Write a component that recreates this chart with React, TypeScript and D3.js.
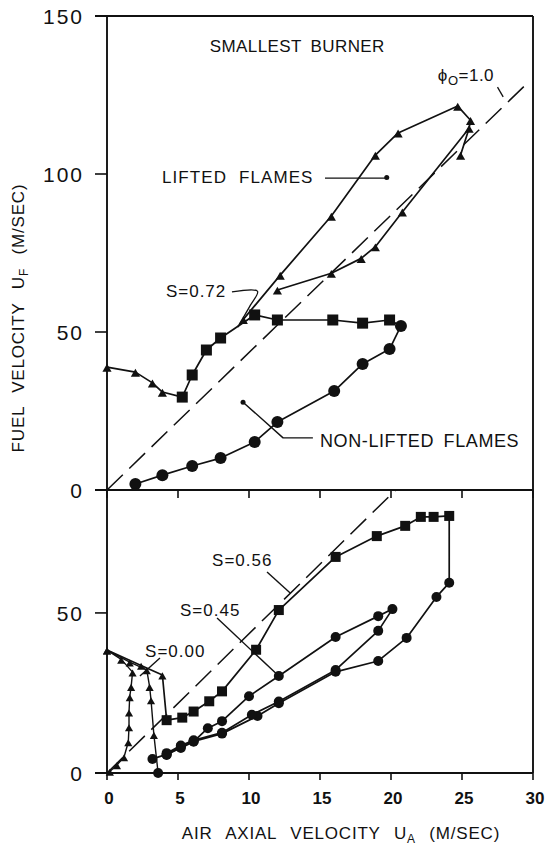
import React from "react";
import * as d3 from "d3";

type P = [number, number];

const X_TICKS = [0, 5, 10, 15, 20, 25, 30];
const TOP_Y_TICKS = [0, 50, 100, 150];
const BOTTOM_Y_TICKS = [0, 50];

// Stoichiometric line, phi_o = 1.0
const PHI_LINE: P[] = [[0, 0], [29.8, 129.6]];

// Upper panel: S = 0.72
const S072_TRIANGLES: P[] = [[0, 38.9], [2.0, 37.3], [3.2, 33.9], [3.9, 31.0]];
const S072_SQUARES: P[] = [
  [5.3, 29.4], [6.0, 36.4], [7.0, 44.3], [8.0, 48.1], [10.4, 55.4],
  [12.0, 53.8], [15.9, 53.8], [18.0, 52.8], [19.9, 53.8],
];
const S072_CIRCLES: P[] = [
  [20.7, 51.9], [19.9, 44.6], [18.0, 39.9], [16.0, 31.3], [12.0, 21.5],
  [10.4, 15.2], [8.0, 10.1], [6.0, 7.6], [3.9, 4.7], [2.0, 1.9],
];
const LIFTED_START: P = [9.2, 51.6];
const LIFTED_RISE: P[] = [
  [9.6, 54.0], [12.2, 68.0], [15.8, 86.7], [18.9, 106.0], [20.5, 113.0],
  [24.7, 121.5], [25.6, 117.0], [25.5, 114.5], [24.9, 106.0],
];
const LIFTED_FALL: P[] = [
  [25.5, 114.5], [20.8, 88.0], [18.9, 77.0], [17.9, 73.3], [15.8, 68.6], [12.0, 63.3],
];

// Lower panel: S = 0.00
const S000_LEFT: P[] = [
  [0, 38.4], [1.0, 35.5], [1.8, 31.5], [1.7, 27.0], [1.6, 23.8], [1.55, 19.0],
  [1.55, 14.4], [1.5, 9.7], [1.2, 5.0], [0.7, 2.5], [0.2, 0.5],
];
const S000_RIGHT: P[] = [[0, 38.4], [1.6, 34.6], [2.8, 32.2], [3.0, 27.0], [3.1, 22.8], [3.3, 12.0]];
const S000_RIGHT_END: P[] = [[3.6, 0]];

// Lower panel: S = 0.56
const S056_TRIANGLES: P[] = [[0, 38.4], [2.4, 33.6], [3.9, 30.6]];
const S056_SQUARES: P[] = [
  [4.2, 16.5], [5.3, 17.3], [6.1, 19.2], [7.2, 22.4], [8.1, 25.5], [10.5, 38.5],
  [12.1, 50.9], [16.1, 67.5], [19.0, 74.0], [21.0, 77.2], [22.1, 80.0], [23.0, 80.0], [24.1, 80.3],
];
const S056_CIRCLES: P[] = [
  [24.1, 59.4], [23.2, 55.0], [21.1, 42.2], [19.1, 35.0], [16.1, 31.6], [12.1, 21.8],
  [10.6, 17.8], [8.1, 12.3], [6.1, 9.9], [5.2, 8.2], [4.2, 5.6],
];

// Lower panel: S = 0.45
const S045_CIRCLES: P[] = [
  [3.2, 4.4], [4.2, 5.8], [5.2, 7.8], [6.1, 9.8], [7.1, 14.0], [8.1, 16.2], [10.0, 24.0],
  [12.1, 30.3], [16.1, 42.5], [19.1, 49.0], [20.1, 51.2], [19.1, 44.4], [16.1, 32.2],
  [12.1, 22.3], [10.2, 18.2], [8.1, 12.6], [6.1, 10.2], [5.2, 8.6], [4.2, 6.2],
];

const FONT = "'Liberation Sans', Arial, Helvetica, sans-serif";
const INK = "#111";

const x = d3.scaleLinear().domain([0, 30]).range([107, 533]);
const yTop = d3.scaleLinear().domain([0, 150]).range([490, 16]);
const yBot = d3.scaleLinear().domain([0, 88.4]).range([773, 490]);

type Scale = d3.ScaleLinear<number, number>;

function Path({ pts, y, dash, w = 1.7, curve }: { pts: P[]; y: Scale; dash?: string; w?: number; curve?: d3.CurveFactory }) {
  const gen = d3.line<P>().x((d) => x(d[0])).y((d) => y(d[1]));
  if (curve) gen.curve(curve);
  return <path d={gen(pts) || ""} fill="none" stroke={INK} strokeWidth={w} strokeDasharray={dash} strokeLinejoin="round" />;
}

function Marks({ pts, y, kind, size }: { pts: P[]; y: Scale; kind: "circle" | "square" | "triangle"; size: number }) {
  return (
    <g fill={INK}>
      {pts.map((d, i) => {
        const cx = x(d[0]);
        const cy = y(d[1]);
        if (kind === "circle") return <circle key={i} cx={cx} cy={cy} r={size / 2} />;
        if (kind === "square") return <rect key={i} x={cx - size / 2} y={cy - size / 2} width={size} height={size} />;
        const sym = d3.symbol().type(d3.symbolTriangle).size(size * size * 0.45)();
        return <path key={i} d={sym || ""} transform={`translate(${cx},${cy + 2})`} />;
      })}
    </g>
  );
}

function Label({ at, y, children, size = 17, anchor = "start", ls = 0.8, ws = 4 }: any) {
  return (
    <text x={x(at[0])} y={y(at[1])} fontFamily={FONT} fontSize={size} textAnchor={anchor} fill={INK} letterSpacing={ls} wordSpacing={ws}>
      {children}
    </text>
  );
}

export default function App() {
  return (
    <svg width={547} height={848} style={{ position: "absolute", left: 0, top: 0, background: "#fff" }}>
      <defs>
        <clipPath id="topClip"><rect x={x(0)} y={yTop(150)} width={x(30) - x(0)} height={yTop(0) - yTop(150)} /></clipPath>
        <clipPath id="botClip"><rect x={x(0)} y={yBot(88.4)} width={x(30) - x(0)} height={yBot(0) - yBot(88.4)} /></clipPath>
      </defs>

      {/* frames */}
      <g stroke={INK} strokeWidth={1.9} fill="none">
        <line x1={x(0)} x2={x(0)} y1={yTop(150)} y2={yBot(0)} />
        <line x1={x(30)} x2={x(30)} y1={yTop(150)} y2={yBot(0)} />
        <line x1={x(0) - 12} x2={x(30)} y1={yTop(150)} y2={yTop(150)} />
        <line x1={x(0) - 12} x2={x(30)} y1={yTop(0)} y2={yTop(0)} />
        <line x1={x(0) - 12} x2={x(30)} y1={yBot(0)} y2={yBot(0)} />
      </g>

      {/* ticks */}
      <g stroke={INK} strokeWidth={1.6}>
        {TOP_Y_TICKS.map((t) => <line key={"t" + t} x1={x(0) - 12} x2={x(0)} y1={yTop(t)} y2={yTop(t)} />)}
        {BOTTOM_Y_TICKS.map((t) => <line key={"b" + t} x1={x(0) - 12} x2={x(0)} y1={yBot(t)} y2={yBot(t)} />)}
        {X_TICKS.map((t) => <line key={"x" + t} x1={x(t)} x2={x(t)} y1={yTop(0)} y2={yTop(0) + 8} />)}
        {X_TICKS.map((t) => <line key={"xb" + t} x1={x(t)} x2={x(t)} y1={yBot(0)} y2={yBot(0) + 7} />)}
      </g>
      <g fontFamily={FONT} fontSize={21} fill={INK} textAnchor="end" letterSpacing={2}>
        {TOP_Y_TICKS.map((t) => <text key={"tl" + t} x={x(0) - 23} y={yTop(t) + 8}>{t}</text>)}
        {BOTTOM_Y_TICKS.map((t) => <text key={"bl" + t} x={x(0) - 23} y={yBot(t) + 8}>{t}</text>)}
      </g>
      <g fontFamily={FONT} fontSize={17} fontWeight="bold" fill={INK} textAnchor="middle">
        {X_TICKS.map((t) => <text key={"xl" + t} x={x(t) + 2} y={yBot(0) + 31}>{t}</text>)}
      </g>

      {/* axis titles */}
      <text transform={`translate(24,318) rotate(-90)`} fontFamily={FONT} fontSize={17} fill={INK} textAnchor="middle" letterSpacing={0.8} wordSpacing={8}>
        FUEL VELOCITY U<tspan fontSize={12} dy={4}>F</tspan><tspan dy={-4}> (M/SEC)</tspan>
      </text>
      <text x={341} y={839} fontFamily={FONT} fontSize={17} fill={INK} textAnchor="middle" letterSpacing={0.8} wordSpacing={8}>
        AIR AXIAL VELOCITY U<tspan fontSize={12} dy={4}>A</tspan><tspan dy={-4}> (M/SEC)</tspan>
      </text>

      {/* upper panel */}
      <g clipPath="url(#topClip)">
        <Path pts={PHI_LINE} y={yTop} dash="22 9" w={1.5} />
      </g>
      <Path pts={[...S072_TRIANGLES, ...S072_SQUARES, ...S072_CIRCLES]} y={yTop} />
      <Path pts={[LIFTED_START, ...LIFTED_RISE]} y={yTop} />
      <Path pts={LIFTED_FALL} y={yTop} />
      <Marks pts={S072_TRIANGLES} y={yTop} kind="triangle" size={9} />
      <Marks pts={LIFTED_RISE} y={yTop} kind="triangle" size={9} />
      <Marks pts={LIFTED_FALL.slice(1)} y={yTop} kind="triangle" size={9} />
      <Marks pts={S072_SQUARES} y={yTop} kind="square" size={11} />
      <Marks pts={S072_CIRCLES} y={yTop} kind="circle" size={12} />

      <Label at={[13.4, 138.6]} y={yTop} anchor="middle" size={17} ls={0.4}>SMALLEST BURNER</Label>
      <text x={x(23.3)} y={yTop(129.4)} fontFamily={FONT} fontSize={17} fill={INK} letterSpacing={0.5}>
        ϕ<tspan fontSize={13} dy={4}>O</tspan><tspan dy={-4}>=1.0</tspan>
      </text>
      <Path pts={[[27.5, 127.5], [27.9, 124.4]]} y={yTop} w={1.3} />
      <Label at={[3.87, 97.2]} y={yTop} ls={1.1} ws={6}>LIFTED FLAMES</Label>
      <Path pts={[[15.35, 98.7], [19.7, 98.7]]} y={yTop} w={1.4} />
      <Marks pts={[[19.7, 98.9]]} y={yTop} kind="circle" size={5} />
      <Label at={[4.15, 61.1]} y={yTop} ls={1}>S=0.72</Label>
      <Path pts={[[8.8, 62.7], [10.6, 62.9], [10.1, 58.5], [9.6, 54.6]]} y={yTop} w={1.3} curve={d3.curveCatmullRom} />
      <Label at={[15.0, 13.6]} y={yTop} size={18} ls={0.6}>NON-LIFTED FLAMES</Label>
      <Path pts={[[9.58, 27.8], [12.4, 16.5], [14.5, 16.5]]} y={yTop} w={1.4} />
      <Marks pts={[[9.58, 27.8]]} y={yTop} kind="circle" size={5} />

      {/* lower panel */}
      <g clipPath="url(#botClip)">
        <Path pts={PHI_LINE} y={yBot} dash="22 9" w={1.5} />
      </g>
      <Path pts={S000_LEFT} y={yBot} w={1.4} />
      <Path pts={[...S000_RIGHT, ...S000_RIGHT_END]} y={yBot} w={1.4} />
      <Path pts={[...S056_TRIANGLES, ...S056_SQUARES, ...S056_CIRCLES]} y={yBot} />
      <Path pts={S045_CIRCLES} y={yBot} />
      <Marks pts={S000_LEFT} y={yBot} kind="triangle" size={8} />
      <Marks pts={S000_RIGHT} y={yBot} kind="triangle" size={8} />
      <Marks pts={S056_TRIANGLES.slice(1)} y={yBot} kind="triangle" size={8} />
      <Marks pts={S000_RIGHT_END} y={yBot} kind="circle" size={10} />
      <Marks pts={S056_SQUARES} y={yBot} kind="square" size={10} />
      <Marks pts={S056_CIRCLES} y={yBot} kind="circle" size={10} />
      <Marks pts={S045_CIRCLES} y={yBot} kind="circle" size={10} />

      <Label at={[7.4, 64.7]} y={yBot} ls={1}>S=0.56</Label>
      <Path pts={[[11.27, 62.8], [12.9, 56.25]]} y={yBot} w={1.4} />
      <Label at={[5.14, 49.0]} y={yBot} ls={1}>S=0.45</Label>
      <Path pts={[[7.75, 48.4], [12.1, 30.3]]} y={yBot} w={1.4} />
      <Label at={[2.68, 36.25]} y={yBot} ls={1}>S=0.00</Label>
      <Path pts={[[3.73, 35.9], [2.32, 30.3]]} y={yBot} w={1.4} />
    </svg>
  );
}
